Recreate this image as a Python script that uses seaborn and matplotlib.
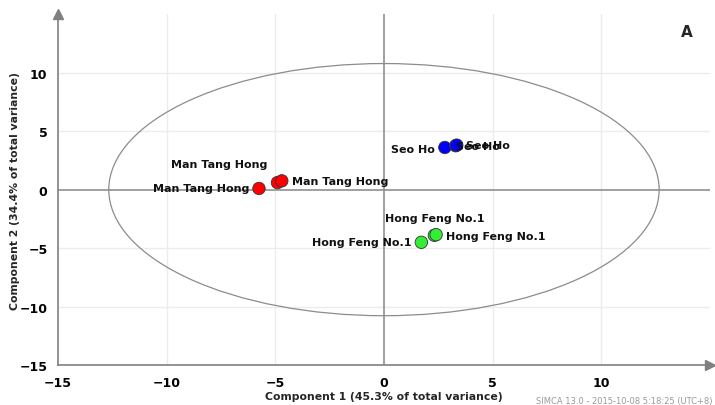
import numpy as np
import pandas as pd
import matplotlib.pyplot as plt
import seaborn as sns
from matplotlib.patches import Ellipse

# scores
cultivar = ["Man Tang Hong", "Man Tang Hong", "Man Tang Hong",
            "Seo Ho", "Seo Ho", "Seo Ho",
            "Hong Feng No.1", "Hong Feng No.1", "Hong Feng No.1"]
t1 = [-5.75, -4.9, -4.7, 2.8, 3.3, 3.35, 1.72, 2.32, 2.4]
t2 = [0.1, 0.6, 0.75, 3.6, 3.75, 3.8, -4.5, -3.9, -3.85]
colors = {"Man Tang Hong": "#ff0000", "Seo Ho": "#0000ff", "Hong Feng No.1": "#33ee33"}

data = pd.DataFrame({"t1": t1, "t2": t2, "cultivar": cultivar})

sns.set_style("white")
plt.rcParams['font.family'] = ['DejaVu Sans']

fig = plt.figure(figsize=(7.15, 4.06), dpi=100)
ax = fig.add_axes([0.081, 0.098, 0.912, 0.865])

ax.set_xlim(-15, 15)
ax.set_ylim(-15, 15)

# grid + zero lines
for v in [-10, -5, 5, 10]:
    ax.axvline(v, color="#ececec", lw=1, zorder=0)
    ax.axhline(v, color="#ececec", lw=1, zorder=0)
ax.axvline(0, color="#909090", lw=1.2, zorder=1)
ax.axhline(0, color="#909090", lw=1.2, zorder=1)

# Hotelling T2 ellipse
ax.add_patch(Ellipse((0, 0), 2 * 12.66, 2 * 10.77, fill=False, ec="#8c8c8c", lw=0.9, zorder=2))

sns.scatterplot(data=data, x="t1", y="t2", hue="cultivar", palette=colors,
                s=80, edgecolor="#333333", linewidth=0.6, legend=False, ax=ax, zorder=3)

lab = dict(fontsize=8, fontweight="bold", color="#111111", zorder=4)
ax.annotate("Man Tang Hong", (t1[0], t2[0]), xytext=(-7, 0), textcoords="offset points", ha="right", va="center", **lab)
ax.annotate("Man Tang Hong", (t1[1], t2[1]), xytext=(-7, 10), textcoords="offset points", ha="right", va="bottom", **lab)
ax.annotate("Man Tang Hong", (t1[2], t2[2]), xytext=(7, 0), textcoords="offset points", ha="left", va="center", **lab)
ax.annotate("Seo Ho", (t1[3], t2[3]), xytext=(-7, -1), textcoords="offset points", ha="right", va="center", **lab)
ax.annotate("Seo Ho", (t1[4], t2[4]), xytext=(0, 0), textcoords="offset points", ha="left", va="center", **lab)
ax.annotate("Seo Ho", (t1[5], t2[5]), xytext=(7, 0), textcoords="offset points", ha="left", va="center", **lab)
ax.annotate("Hong Feng No.1", (t1[6], t2[6]), xytext=(-7, 0), textcoords="offset points", ha="right", va="center", **lab)
ax.annotate("Hong Feng No.1", (t1[7], t2[7]), xytext=(0, 9), textcoords="offset points", ha="center", va="bottom", **lab)
ax.annotate("Hong Feng No.1", (t1[8], t2[8]), xytext=(7, -1), textcoords="offset points", ha="left", va="center", **lab)

ax.set_xticks([-15, -10, -5, 0, 5, 10])
ax.set_yticks([-15, -10, -5, 0, 5, 10])
ax.set_xticks(np.arange(-12.5, 15, 5), minor=True)
ax.set_yticks(np.arange(-12.5, 15, 2.5), minor=True)
ax.tick_params(axis="both", which="major", length=4, color="#808080", labelsize=9, labelcolor="#000000")
ax.tick_params(axis="both", which="minor", length=2.5, color="#808080")
for t in ax.get_xticklabels() + ax.get_yticklabels():
    t.set_fontweight("bold")

for s in ["top", "right"]:
    ax.spines[s].set_visible(False)
for s in ["left", "bottom"]:
    ax.spines[s].set_color("#808080")
    ax.spines[s].set_linewidth(1.2)
# arrow heads on the axes
ax.plot(1, 0, ">", transform=ax.transAxes, color="#808080", ms=7, clip_on=False)
ax.plot(0, 1, "^", transform=ax.transAxes, color="#808080", ms=7, clip_on=False)

ax.set_xlabel("Component 1 (45.3% of total variance)", fontsize=7.8, fontweight="bold", labelpad=2)
ax.set_ylabel("Component 2 (34.4% of total variance)", fontsize=7.8, fontweight="bold")
ax.yaxis.set_label_coords(-0.058, 0.5)

ax.text(0.965, 0.95, "A", transform=ax.transAxes, fontsize=11, fontweight="bold", ha="center", va="center")
fig.text(0.75, 0.0, "SIMCA 13.0 - 2015-10-08 5:18:25 (UTC+8)", fontsize=6, color="#999999", ha="left", va="bottom")

fig.savefig("out.png", dpi=100)
